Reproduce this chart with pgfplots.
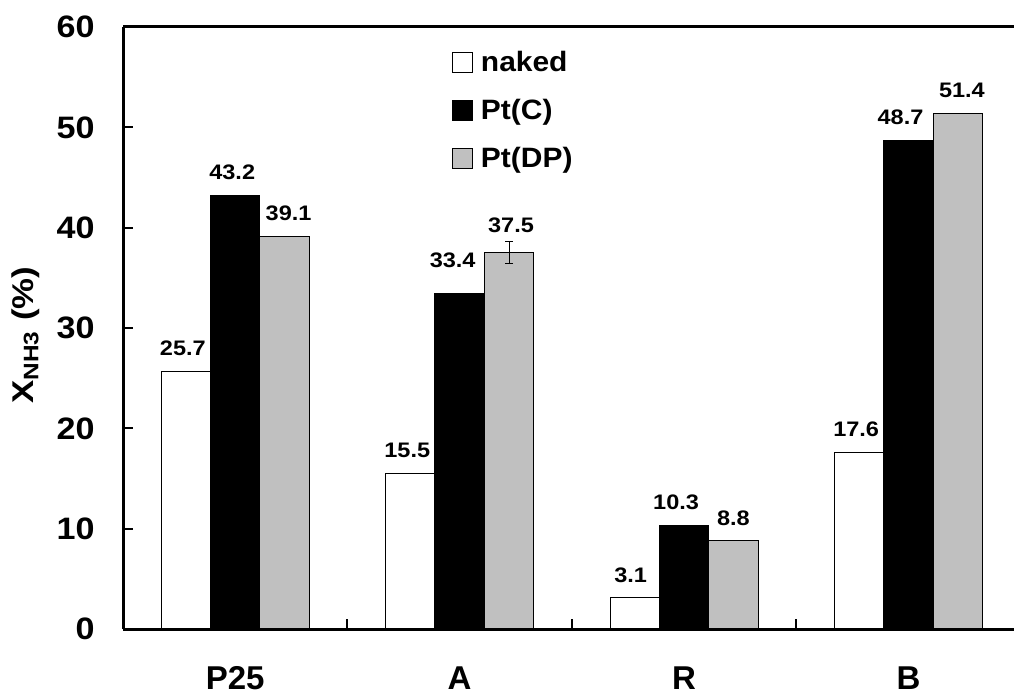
\documentclass[border=0pt]{standalone}
\usepackage{fontspec}
\setmainfont{Liberation Sans}
\newfontfamily\valfont[FakeStretch=1.12]{Liberation Sans}
\newfontfamily\tickfont[FakeStretch=1.1]{Liberation Sans}
\newfontfamily\legfont[FakeStretch=1.07]{Liberation Sans}
\newfontfamily\labfont[FakeStretch=1.16]{Liberation Sans}
\usepackage{pgfplots}
\usepackage{pgfplotstable}
\pgfplotsset{compat=1.18}

\pgfplotstableread{
x y err shift dx label
0 25.7 0 0 -1.5 25.7
1 15.5 0 0 -1.5 15.5
2 3.1 0 0 -2 3.1
3 17.6 0 0 -1.5 17.6
}\naked
\pgfplotstableread{
x y err shift dx label
0 43.2 0 0 -1.5 43.2
1 33.4 0 5.5 -3.5 33.4
2 10.3 0 0 -4 10.3
3 48.7 0 0 -4 48.7
}\ptc
\pgfplotstableread{
x y err shift dx label
0 39.1 0 0 2 39.1
1 37.5 1.1 2.5 1 37.5
2 8.8 0 0 0 8.8
3 51.4 0 0 2 51.4
}\ptdp

\definecolor{silver}{RGB}{192,192,192}

\begin{document}
\begin{tikzpicture}
\begin{axis}[
  name=ax,
  scale only axis,
  width=445.5pt, height=301pt,
  xmin=-0.5, xmax=3.47, ymin=0, ymax=60,
  ybar, bar width=0.22,
  axis x line=box, axis y line=left,
  axis line style={line width=1.5pt, -},
  xtick pos=bottom, ytick pos=left,
  tick align=inside,
  major tick length=5pt, minor tick length=5pt,
  every tick/.style={black, line width=1pt},
  xtick={0,1,2,3}, xticklabels={P25,A,R,B},
  major x tick style={draw=none},
  minor xtick={0.5,1.5,2.5},
  ytick={0,10,...,60},
  /pgf/number format/assume math mode=true,
  yticklabel style={font=\tickfont\bfseries\fontsize{15.5}{15.5}\selectfont, inner sep=0pt, xshift=-14pt},
  xticklabel style={font=\bfseries\fontsize{16.5}{16.5}\selectfont, inner sep=0pt, yshift=-18.5pt},
  ylabel={\bfseries X\textsubscript{NH3} (\%)},
  every axis y label/.style={at={(axis description cs:-0.1089,0.488)}, rotate=90, anchor=center, font=\labfont\fontsize{15}{15}\selectfont},
  axis on top,
  legend style={at={(axis description cs:0.362,0.970)}, anchor=north west, draw=none, fill=none,
    font=\legfont\bfseries\fontsize{14}{14}\selectfont,
    nodes={inner sep=0pt, inner xsep=4pt, text height=11pt, text depth=4pt}, row sep=9pt},
  legend cell align=left,
  legend image code/.code={\draw[#1, line width=0.5pt] (0pt,-4pt) rectangle (10pt,6pt);},
  nodes near coords,
  point meta=explicit symbolic,
  visualization depends on={\thisrow{shift} \as \lshift},
  visualization depends on={\thisrow{dx} \as \lxshift},
  nodes near coords style={font=\valfont\bfseries\fontsize{10.5}{10.5}\selectfont, inner sep=0pt, anchor=south, yshift=7.5pt+\lshift*1pt, xshift=\lxshift*1pt, black},
]
\addplot[bar shift=-0.22, fill=white, draw=black, line width=0.5pt]
  table[x=x, y=y, meta=label] {\naked};
\addlegendentry{naked}
\addplot[bar shift=0, fill=black, draw=black, line width=0.5pt]
  table[x=x, y=y, meta=label] {\ptc};
\addlegendentry{Pt(C)}
\addplot[bar shift=0.22, fill=silver, draw=black, line width=0.5pt,
  error bars/.cd, y dir=both, y explicit,
  error bar style={line width=0.5pt, black},
  error mark options={rotate=90, mark size=2pt, line width=0.5pt, black}]
  table[x=x, y=y, y error=err, meta=label] {\ptdp};
\addlegendentry{Pt(DP)}
\end{axis}
\pgfresetboundingbox
\path[use as bounding box] ([shift={(-61.5pt,-33.5pt)}]ax.south west) rectangle ([shift={(0pt,13.5pt)}]ax.north east);
\end{tikzpicture}
\end{document}
